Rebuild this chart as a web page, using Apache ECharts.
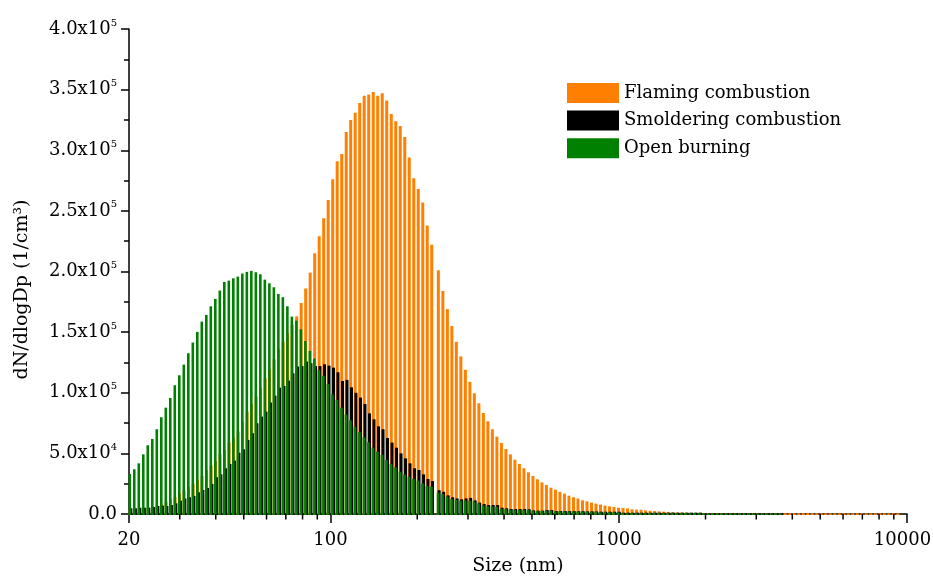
<!DOCTYPE html>
<html>
<head>
<meta charset="utf-8">
<title>Particle size distribution</title>
<script src="https://cdn.jsdelivr.net/npm/echarts@6.0.0/dist/echarts.min.js"></script>
<style>
  html, body { margin: 0; padding: 0; background: #fff; }
  #chart { width: 933px; height: 577px; }
</style>
</head>
<body>
<div id="chart"></div>
<script>
// bin midpoints (nm), 64 channels per decade
const sizes = [
  20.17, 20.91, 21.68, 22.47, 23.29, 24.15, 25.03, 25.95, 26.90, 27.88,
  28.90, 29.96, 31.06, 32.20, 33.38, 34.59, 35.86, 37.18, 38.54, 39.95,
  41.41, 42.93, 44.50, 46.13, 47.82, 49.57, 51.39, 53.27, 55.22, 57.24,
  59.34, 61.52, 63.77, 66.10, 68.52, 71.03, 73.64, 76.33, 79.13, 82.03,
  85.03, 88.15, 91.38, 94.72, 98.19, 101.8, 105.5, 109.4, 113.4, 117.5,
  121.8, 126.3, 130.9, 135.7, 140.7, 145.8, 151.2, 156.7, 162.5, 168.4,
  174.6, 181.0, 187.6, 194.5, 201.6, 209.0, 216.6, 224.5, 236.7, 245.4,
  254.4, 263.7, 273.3, 283.3, 293.7, 304.5, 315.6, 327.2, 339.2, 351.6,
  364.5, 377.8, 391.7, 406.0, 420.9, 436.3, 452.3, 468.9, 486.1, 503.9,
  522.3, 541.5, 561.3, 581.9, 603.2, 625.3, 648.2, 671.9, 696.6, 722.1,
  748.5, 775.9, 804.4, 833.8, 864.4, 896.0, 928.9, 962.9, 998.2, 1034.8,
  1072.7, 1112.0, 1152.7, 1195.0, 1238.7, 1284.1, 1331.2, 1380.0, 1430.5, 1482.9,
  1537.2, 1593.6, 1651.9, 1712.5, 1775.2, 1840.3, 1907.7, 1977.6, 2050.1, 2125.2,
  2203.1, 2283.8, 2367.5, 2454.2, 2544.2, 2637.4, 2734.0, 2834.2, 2938.1, 3045.7,
  3157.3, 3273.0, 3393.0, 3517.3, 3646.2, 3779.8, 3918.3, 4061.9, 4210.7, 4365.0,
  4525.0, 4690.8, 4862.7, 5040.9, 5225.6, 5417.1, 5615.6, 5821.4, 6034.7, 6255.8,
  6485.1, 6722.7, 6969.1, 7224.4, 7489.2, 7763.6, 8048.1, 8343.0, 8648.7, 8965.6,
  9294.2
]

// dN/dlogDp (1/cm3)
const flaming = [
  3500, 4000, 4500, 5000, 5500, 6000, 6600, 8000, 10200, 12400,
  13800, 17000, 19300, 22600, 24800, 28000, 31400, 36300, 39900, 43700,
  49200, 52800, 58900, 63000, 67900, 76200, 84400, 90500, 96800, 103700,
  111900, 118800, 127600, 135900, 142000, 149000, 156000, 163000, 174000, 186000,
  199000, 215000, 229000, 244000, 259000, 276000, 291000, 297000, 315000, 325000,
  331000, 339000, 345000, 346000, 348000, 345000, 347000, 341000, 330000, 324000,
  320000, 311000, 294000, 277000, 268000, 257000, 238000, 222000, 201000, 184000,
  169000, 155000, 142000, 130000, 119000, 109000, 99600, 91300, 83300, 76500,
  69900, 63800, 58600, 53600, 49200, 44800, 41300, 37700, 34400, 31400,
  28600, 26100, 23900, 21700, 20100, 18200, 16800, 15100, 13800, 12700,
  11300, 10500, 9400, 8500, 7800, 6900, 6300, 5800, 5200, 5000,
  4600, 3900, 3600, 3500, 3000, 2600, 2500, 2200, 1900, 1700,
  1500, 1200, 1100, 1000, 900, 900, 900, 800, 800, 800,
  800, 800, 700, 700, 700, 700, 700, 700, 700, 700,
  700, 600, 600, 600, 600, 600, 600, 600, 600, 600,
  600, 600, 600, 500, 500, 500, 500, 500, 500, 500,
  500, 500, 500, 500, 500, 500, 500, 500, 500, 500,
  500
]

const smoldering = [
  4700, 4700, 5200, 5200, 5200, 5800, 6600, 6900, 6600, 7400,
  8800, 11000, 12700, 13800, 14900, 17900, 19800, 21500, 24800, 30300,
  32700, 37700, 41300, 44000, 50600, 53400, 61000, 66600, 74800, 80300,
  84400, 91900, 97600, 104200, 105600, 110000, 116000, 121600, 122000, 125700,
  124300, 122000, 122000, 123500, 122400, 120700, 116900, 109700, 110600, 104500,
  100000, 96000, 90800, 83000, 78100, 72300, 69900, 62700, 58900, 54700,
  50000, 45900, 41800, 37700, 36300, 32700, 28900, 27200, 19600, 18300,
  15400, 13800, 12800, 12100, 12900, 13300, 11200, 9400, 8200, 7400,
  7400, 7400, 5200, 4700, 4100, 4100, 4100, 4100, 3900, 3000,
  2800, 2800, 3300, 3300, 2500, 2500, 2500, 2400, 2400, 2300,
  2300, 2200, 2200, 2100, 1900, 1900, 1900, 1900, 1900, 1100,
  1100, 1100, 1100, 1100, 1100, 1100, 1100, 1100, 1100, 1100,
  1100, 1100, 1100, 1100, 1100, 1100, 1100, 600, 600, 600,
  600, 600, 600, 600, 600, 600, 600, 600, 600, 600,
  600, 600, 600, 600, 600
]

const openBurning = [
  33000, 36900, 41800, 49200, 56700, 61900, 69900, 79800, 87700, 95700,
  106200, 114400, 123200, 132600, 141400, 150200, 158700, 164200, 171300, 177400,
  184300, 191400, 192500, 194400, 195800, 198300, 199700, 200500, 199400, 197700,
  193300, 190300, 187000, 181500, 178800, 171300, 162800, 159500, 152400, 142700,
  134500, 128200, 118800, 113900, 107300, 98700, 94000, 87700, 82000, 77300,
  72000, 67400, 63300, 59100, 54700, 51400, 48700, 44600, 41300, 38500,
  34900, 32700, 30800, 28900, 27500, 25300, 23100, 22600, 17600, 16500,
  14300, 12400, 11600, 11000, 11000, 11000, 10200, 8800, 7000, 6300,
  6000, 6000, 4400, 4000, 3600, 3600, 3400, 3400, 3300, 2600,
  2400, 2400, 2800, 2800, 2200, 2200, 2200, 2100, 2100, 2000,
  2000, 1900, 1900, 1900, 1500, 1500, 1500, 1500, 1500, 900,
  900, 900, 900, 900, 900, 900, 900, 900, 900, 900,
  900, 900, 900, 900, 900, 900, 900, 500, 500, 500,
  500, 500, 500, 500, 500, 500, 500, 500, 500, 500,
  500, 500, 500, 500, 500
]

const seriesNames = ['Flaming combustion', 'Smoldering combustion', 'Open burning']
const seriesColors = ['#ff8000', '#000000', '#008000']
const xMinorTicks = [30, 40, 50, 60, 70, 80, 90, 200, 300, 400, 500, 600, 700, 800, 900,
  2000, 3000, 4000, 5000, 6000, 7000, 8000, 9000]

const FONT = 'DejaVu Serif'

function pairs(values) {
  return values.map((v, i) => [sizes[i], v])
}

function barRenderer(offset, width) {
  return function (params, api) {
    const top = api.coord([api.value(0), api.value(1)])
    const base = api.coord([api.value(0), 0])
    return {
      type: 'rect',
      shape: {
        x: top[0] + offset - width / 2,
        y: top[1],
        width: width,
        height: base[1] - top[1] + 1
      },
      style: { fill: api.visual('color') }
    }
  }
}

function sciLabel(v) {
  if (v === 0) return '{m|0.0}'
  const e = Math.floor(Math.log10(v) + 1e-9)
  const m = (v / Math.pow(10, e)).toFixed(1)
  return '{m|' + m + 'x10}{e|' + e + '}'
}

// last label sits against the right edge, nudge it in a little
function sizeLabel(v) {
  const s = String(Math.round(v))
  return v >= 9999 ? '{r|' + s + '}' : s
}

const chart = echarts.init(document.getElementById('chart'), null, { renderer: 'canvas' })

chart.setOption({
  animation: false,
  backgroundColor: '#fff',
  grid: { left: 129, right: 26, top: 29, bottom: 63, outerBoundsMode: 'none' },
  legend: {
    data: seriesNames,
    orient: 'vertical',
    left: 567,
    top: 83,
    padding: 0,
    icon: 'rect',
    itemWidth: 52,
    itemHeight: 20,
    itemGap: 7.6,
    textStyle: { fontFamily: FONT, fontSize: 18, color: '#000' }
  },
  xAxis: {
    type: 'log',
    logBase: 10,
    min: 20,
    max: 10000,
    name: 'Size (nm)',
    nameLocation: 'middle',
    nameGap: 43,
    nameTextStyle: { fontFamily: FONT, fontSize: 19, color: '#000' },
    axisLine: { lineStyle: { color: '#000', width: 1.5 } },
    axisTick: { length: 9, lineStyle: { color: '#000', width: 1.5 } },
    axisLabel: {
      margin: 17,
      fontFamily: FONT,
      fontSize: 18,
      color: '#000',
      formatter: sizeLabel,
      rich: {
        r: { fontFamily: FONT, fontSize: 18, color: '#000', padding: [0, 9, 0, 0] }
      }
    },
    splitLine: { show: false }
  },
  yAxis: {
    type: 'value',
    min: 0,
    max: 400000,
    interval: 50000,
    name: 'dN/dlogDp (1/cm³)',
    nameLocation: 'middle',
    nameGap: 97,
    nameTextStyle: { fontFamily: FONT, fontSize: 19, color: '#000', padding: [0, 36, 0, 0] },
    axisLine: { show: true, lineStyle: { color: '#000', width: 1.5 } },
    axisTick: { show: true, length: 8, lineStyle: { color: '#000', width: 1.5 } },
    minorTick: { show: true, splitNumber: 2, length: 5, lineStyle: { color: '#000', width: 1.5 } },
    axisLabel: {
      margin: 12,
      formatter: sciLabel,
      rich: {
        m: { fontFamily: FONT, fontSize: 18, color: '#000', lineHeight: 22 },
        e: { fontFamily: FONT, fontSize: 10, color: '#000', lineHeight: 12, verticalAlign: 'top' }
      }
    },
    splitLine: { show: false }
  },
  series: [
    {
      name: seriesNames[0],
      type: 'custom',
      data: pairs(flaming),
      encode: { x: 0, y: 1 },
      itemStyle: { color: seriesColors[0] },
      renderItem: barRenderer(0, 3)
    },
    {
      name: seriesNames[1],
      type: 'custom',
      data: pairs(smoldering),
      encode: { x: 0, y: 1 },
      itemStyle: { color: seriesColors[1] },
      renderItem: barRenderer(0.8, 3)
    },
    {
      name: seriesNames[2],
      type: 'custom',
      data: pairs(openBurning),
      encode: { x: 0, y: 1 },
      itemStyle: { color: seriesColors[2] },
      renderItem: barRenderer(-0.3, 2.6)
    },
    {
      name: 'minorTicks',
      type: 'custom',
      silent: true,
      clip: false,
      data: xMinorTicks.map(v => [v, 0]),
      encode: { x: 0, y: 1 },
      renderItem(params, api) {
        const p = api.coord([api.value(0), 0])
        return {
          type: 'line',
          shape: { x1: p[0], y1: p[1], x2: p[0], y2: p[1] + 5.5 },
          style: { stroke: '#000', lineWidth: 1.5 }
        }
      }
    }
  ]
})
</script>
</body>
</html>
